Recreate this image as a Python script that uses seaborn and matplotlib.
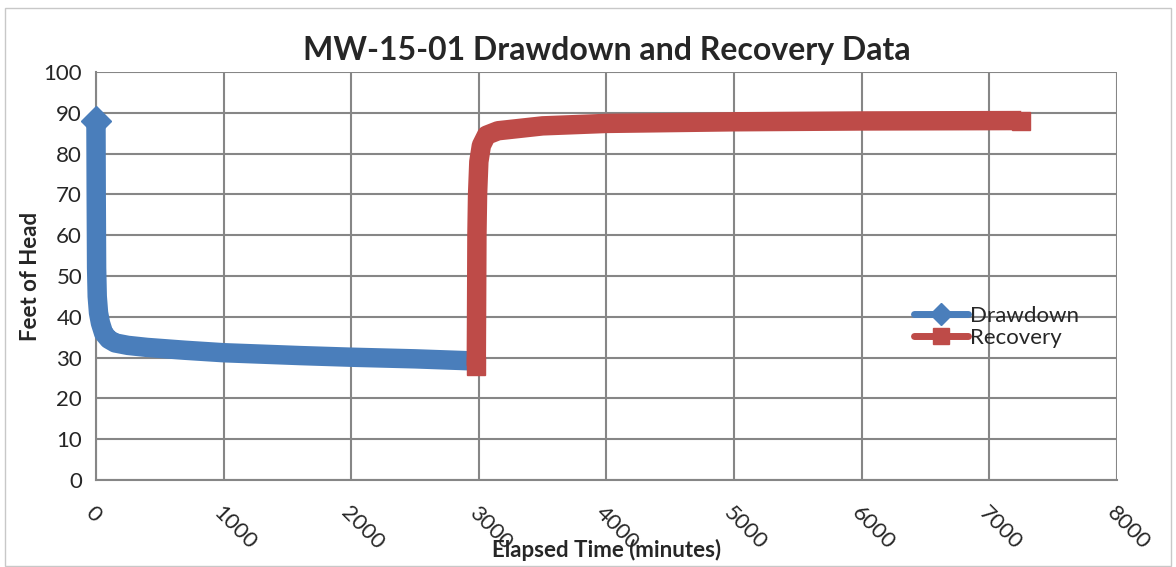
import matplotlib.pyplot as plt
from matplotlib.lines import Line2D
from matplotlib.patches import Rectangle
import seaborn as sns
import pandas as pd

# drawdown (pumping) phase
drawdown_time = [0, 2, 5, 10, 20, 35, 60, 100, 150, 250, 400, 700, 1000, 1600, 2000, 2500, 2950]
drawdown_head = [88, 70, 52, 45, 41, 38.5, 36, 34.5, 33.6, 33.0, 32.5, 31.8, 31.2, 30.5, 30.1, 29.7, 29.2]

# recovery phase
recovery_time = [2980, 2982, 2985, 2990, 3000, 3020, 3060, 3150, 3500, 4000, 5000, 6000, 7250]
recovery_head = [28, 40, 60, 70, 78, 82, 84.5, 85.6, 86.8, 87.4, 87.8, 88.0, 88.1]

x_ticks = [0, 1000, 2000, 3000, 4000, 5000, 6000, 7000, 8000]
y_ticks = [0, 10, 20, 30, 40, 50, 60, 70, 80, 90, 100]

blue = "#4A7EBB"
red = "#BE4B48"
grid_col = "#868686"

sns.set_style("white")
plt.rcParams["font.family"] = ["Lato", "DejaVu Sans"]

df = pd.concat([
    pd.DataFrame({"time": drawdown_time, "head": drawdown_head, "series": "Drawdown"}),
    pd.DataFrame({"time": recovery_time, "head": recovery_head, "series": "Recovery"}),
])

fig = plt.figure(figsize=(11.76, 5.67), dpi=100)
ax = fig.add_axes([0.0816, 0.1534, 0.8682, 0.7196])
fig.patches.append(Rectangle((0.004, 0.002), 0.992, 0.984, transform=fig.transFigure,
                             fill=False, edgecolor="#c8c8c8", lw=1))

sns.lineplot(data=df, x="time", y="head", hue="series", palette=[blue, red],
             sort=False, estimator=None, lw=14, legend=False, ax=ax,
             solid_joinstyle="round", solid_capstyle="butt")
for l in ax.get_lines():
    l.set_zorder(3)
    l.set_clip_on(False)

# end markers like the dense excel markers
ax.plot(drawdown_time[0], drawdown_head[0], marker="D", ms=15, color=blue, zorder=4, clip_on=False)
ax.plot(recovery_time[0], recovery_head[0], marker="s", ms=13, color=red, zorder=4)
ax.plot(recovery_time[-1], recovery_head[-1], marker="s", ms=13, color=red, zorder=4)

ax.set_xlim(0, 8000)
ax.set_ylim(0, 100)
ax.set_xticks(x_ticks)
ax.set_yticks(y_ticks)
ax.set_xticklabels([str(t) for t in x_ticks], rotation=-45, ha="left", va="top",
                   rotation_mode="anchor", fontsize=16)
ax.set_yticklabels([str(t) for t in y_ticks], fontsize=16)
ax.grid(True, color=grid_col, lw=1.5)
ax.set_axisbelow(True)
for s in ["top", "right"]:
    ax.spines[s].set_visible(False)
for s in ["left", "bottom"]:
    ax.spines[s].set_color(grid_col)
    ax.spines[s].set_linewidth(1.5)
ax.tick_params(axis="both", which="both", direction="out", length=6, width=1.5,
               color=grid_col, pad=4)
ax.tick_params(axis="x", pad=10)

ax.set_title("MW-15-01 Drawdown and Recovery Data", fontsize=23, fontweight="bold", pad=9)
ax.set_ylabel("Feet of Head", fontsize=16, fontweight="bold", labelpad=2)
ax.set_xlabel("Elapsed Time (minutes)", fontsize=16, fontweight="bold", va="center")
ax.xaxis.set_label_coords(0.5, -0.172)

handles = [Line2D([], [], color=blue, lw=5, marker="D", ms=11),
           Line2D([], [], color=red, lw=5, marker="s", ms=11)]
ax.legend(handles, ["Drawdown", "Recovery"], frameon=False, fontsize=16,
          loc="center left", bbox_to_anchor=(0.782, 0.375), handlelength=2.4,
          handletextpad=0.1, labelspacing=0.1)

fig.savefig("out.png", dpi=100)
